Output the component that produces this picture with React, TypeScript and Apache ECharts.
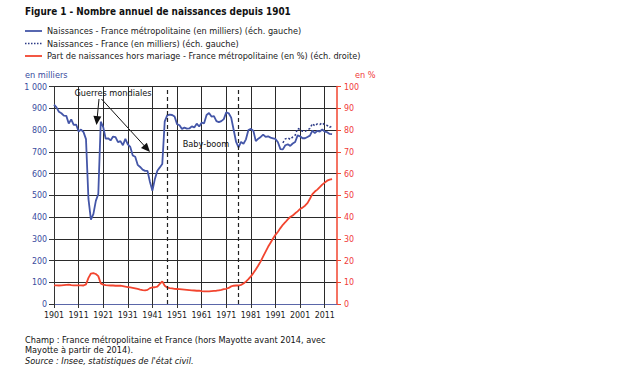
import React, { useEffect, useRef } from "react";
import * as echarts from "echarts";

const startYear = 1901;
const endYear = 2016;
const years: string[] = [];
for (let y = startYear; y <= endYear; y++) years.push(String(y));

// Naissances - France métropolitaine (milliers), 1901-2014
const birthsMetro: number[] = [
  917, 904, 884, 877, 866, 865, 830, 849, 824, 825,
  793, 802, 790, 758, 483, 388, 413, 474, 506, 838,
  813, 760, 762, 752, 770, 767, 744, 749, 730, 759,
  734, 722, 683, 677, 640, 630, 618, 612, 612, 561,
  521, 575, 613, 628, 644, 840, 867, 871, 869, 862,
  827, 822, 805, 811, 806, 807, 817, 812, 829, 816,
  834, 831, 869, 878, 862, 864, 841, 836, 841, 850,
  881, 877, 857, 801, 745, 720, 745, 737, 757, 800,
  805, 797, 749, 760, 768, 779, 768, 771, 765, 762,
  759, 744, 712, 711, 730, 734, 727, 738, 745, 775,
  771, 762, 762, 768, 774, 797, 786, 796, 793, 802,
  793, 790, 782, 781,
];

// Naissances - France (milliers), from 1994 to 2014
const franceStart = 1994;
const birthsFrance: number[] = [
  741, 759, 764, 757, 768, 776, 807, 803, 794, 794,
  800, 807, 829, 819, 828, 825, 833, 823, 821, 812, 819,
];

// Part de naissances hors mariage (%), 1901-2014
const outOfWedlock: number[] = [
  8.6, 8.6, 8.5, 8.6, 8.7, 8.8, 8.9, 8.7, 8.6, 8.6,
  8.6, 8.6, 8.5, 9.0, 12.0, 14.0, 14.2, 13.8, 12.8, 9.5,
  8.9, 8.7, 8.6, 8.5, 8.5, 8.4, 8.4, 8.4, 8.2, 8.0,
  7.8, 7.6, 7.4, 7.2, 6.9, 6.6, 6.4, 6.3, 6.5, 7.3,
  7.6, 7.7, 8.0, 9.2, 10.4, 8.4, 7.6, 7.3, 7.2, 7.0,
  6.9, 6.8, 6.7, 6.6, 6.5, 6.4, 6.3, 6.2, 6.1, 6.1,
  5.9, 5.8, 5.8, 5.8, 5.9, 6.0, 6.1, 6.3, 6.5, 6.8,
  7.0, 7.4, 8.1, 8.4, 8.5, 8.5, 8.8, 9.4, 10.3, 11.4,
  12.7, 14.2, 15.9, 17.7, 19.6, 21.9, 24.1, 26.3, 28.2, 30.1,
  31.8, 33.2, 34.9, 36.4, 37.6, 38.9, 40.0, 40.7, 41.7, 42.6,
  43.7, 44.3, 45.2, 46.4, 48.4, 50.5, 51.7, 52.6, 53.7, 54.9,
  55.8, 56.7, 57.2, 57.4,
];

const babyBoomBounds = ["1947", "1976"];

const seriesNames = [
  "Naissances - France métropolitaine (en milliers) (éch. gauche)",
  "Naissances - France (en milliers) (éch. gauche)",
  "Part de naissances hors mariage - France métropolitaine (en %) (éch. droite)",
];

const FONT = "'DejaVu Sans Condensed', 'DejaVu Sans', sans-serif";
const BLUE = "#4456a8";
const DOT_BLUE = "#2c3a86";
const BLUE_TXT = "#3a4c9e";
const RED = "#f2452f";
const RED_TXT = "#f03a3a";

function arrowHead(x1: number, y1: number, x2: number, y2: number, len: number, half: number) {
  const dx = x2 - x1;
  const dy = y2 - y1;
  const d = Math.sqrt(dx * dx + dy * dy);
  const ux = dx / d;
  const uy = dy / d;
  const bx = x2 - ux * len;
  const by = y2 - uy * len;
  return [
    [x2, y2],
    [bx - uy * half, by + ux * half],
    [bx + uy * half, by - ux * half],
  ];
}

function arrow(x1: number, y1: number, x2: number, y2: number) {
  const len = 9;
  const dx = x2 - x1;
  const dy = y2 - y1;
  const d = Math.sqrt(dx * dx + dy * dy);
  const ex = x2 - (dx / d) * (len - 1);
  const ey = y2 - (dy / d) * (len - 1);
  return [
    {
      type: "line",
      shape: { x1, y1, x2: ex, y2: ey },
      style: { stroke: "#111", lineWidth: 1 },
      silent: true,
    },
    {
      type: "polygon",
      shape: { points: arrowHead(x1, y1, x2, y2, len, 4) },
      style: { fill: "#111" },
      silent: true,
    },
  ];
}

export default function App() {
  const ref = useRef<HTMLDivElement>(null);
  useEffect(() => {
    if (!ref.current) return;
    const chart = echarts.init(ref.current, undefined, { renderer: "svg" });

    const metroData = years.map((_, i) => (i < birthsMetro.length ? birthsMetro[i] : null));
    const franceData = years.map((y) => {
      const k = Number(y) - franceStart;
      return k >= 0 && k < birthsFrance.length ? birthsFrance[k] : null;
    });
    const redData = years.map((_, i) => (i < outOfWedlock.length ? outOfWedlock[i] : null));

    const FS = 9.1;
    const textBase = { fontFamily: FONT, fontSize: FS, fill: "#1a1a1a" };

    const legendStyles = [
      { stroke: BLUE, lineWidth: 1.8 },
      { stroke: DOT_BLUE, lineWidth: 1.5, lineDash: [1.5, 1.5] },
      { stroke: RED, lineWidth: 1.8 },
    ];
    const legendGraphics: any[] = [];
    seriesNames.forEach((name, i) => {
      const y = 31 + i * 12.5;
      legendGraphics.push({
        type: "line",
        shape: { x1: 25, y1: y, x2: 42, y2: y },
        style: legendStyles[i],
        silent: true,
      });
      legendGraphics.push({
        type: "text",
        x: 47,
        y,
        style: { ...textBase, text: name, verticalAlign: "middle" },
        silent: true,
      });
    });

    chart.setOption({
      animation: false,
      backgroundColor: "#ffffff",
      textStyle: { fontFamily: FONT },
      grid: { left: 54, right: 303, top: 86.5, bottom: 71, containLabel: false },
      xAxis: {
        type: "category",
        data: years,
        boundaryGap: false,
        axisLine: { show: true, lineStyle: { color: "#5a66a8", width: 1.2 } },
        axisTick: { show: true, interval: 9, length: 4, lineStyle: { color: "#333" } },
        axisLabel: { interval: 9, color: "#1a1a1a", fontSize: 8.8, margin: 6, fontFamily: FONT },
        splitLine: { show: true, interval: 9, lineStyle: { color: "#2a2a2a", width: 1 } },
      },
      yAxis: [
        {
          type: "value",
          min: 0,
          max: 1000,
          interval: 100,
          position: "left",
          axisLine: { show: true, lineStyle: { color: "#333", width: 1 } },
          axisTick: { show: true, length: 5, lineStyle: { color: "#333" } },
          axisLabel: {
            color: BLUE_TXT,
            fontSize: 8.8,
            margin: 7,
            fontFamily: FONT,
            formatter: (v: number) => (v >= 1000 ? "1 000" : String(v)),
          },
          splitLine: { show: true, lineStyle: { color: "#2a2a2a", width: 1 } },
        },
        {
          type: "value",
          min: 0,
          max: 100,
          interval: 10,
          position: "right",
          axisLine: { show: true, lineStyle: { color: RED, width: 1.5 } },
          axisTick: { show: true, length: 4, lineStyle: { color: RED } },
          axisLabel: { color: RED_TXT, fontSize: 8.8, margin: 7, fontFamily: FONT },
          splitLine: { show: false },
        },
      ],
      series: [
        {
          name: seriesNames[0],
          type: "line",
          data: metroData,
          symbol: "none",
          lineStyle: { color: BLUE, width: 1.8 },
          itemStyle: { color: BLUE },
          z: 3,
          markLine: {
            silent: true,
            symbol: "none",
            label: { show: false },
            lineStyle: { color: "#222", type: [4, 3], width: 1.2 },
            data: babyBoomBounds.map((b) => ({ xAxis: b })),
          },
        },
        {
          name: seriesNames[1],
          type: "line",
          data: franceData,
          symbol: "none",
          lineStyle: { color: DOT_BLUE, width: 1.5, type: [2, 2] },
          itemStyle: { color: DOT_BLUE },
          z: 3,
        },
        {
          name: seriesNames[2],
          type: "line",
          yAxisIndex: 1,
          data: redData,
          symbol: "none",
          lineStyle: { color: RED, width: 1.8 },
          itemStyle: { color: RED },
          z: 3,
        },
      ],
      graphic: [
        {
          type: "text",
          left: 25,
          top: 6,
          style: { ...textBase, text: "Figure 1 - Nombre annuel de naissances depuis 1901", fontSize: 9.9, fontWeight: "bold", fill: "#111" },
        },
        ...legendGraphics,
        {
          type: "text",
          left: 25,
          top: 70,
          style: { ...textBase, text: "en milliers", fill: BLUE_TXT },
        },
        {
          type: "text",
          left: 355,
          top: 70,
          style: { ...textBase, text: "en %", fill: RED_TXT },
        },
        {
          type: "text",
          x: 113,
          y: 93,
          style: { ...textBase, text: "Guerres mondiales", align: "center", verticalAlign: "middle", fill: "#111" },
          z: 20,
        },
        ...arrow(99, 99, 96.5, 125),
        ...arrow(101.5, 99, 150, 152),
        {
          type: "text",
          x: 206,
          y: 144,
          style: { ...textBase, text: "Baby-boom", align: "center", verticalAlign: "middle", fill: "#111" },
          z: 20,
        },
        {
          type: "text",
          left: 25,
          top: 335,
          style: { ...textBase, text: "Champ : France métropolitaine et France (hors Mayotte avant 2014, avec", fill: "#111" },
        },
        {
          type: "text",
          left: 25,
          top: 345.5,
          style: { ...textBase, text: "Mayotte à partir de 2014).", fill: "#111" },
        },
        {
          type: "text",
          left: 25,
          top: 356,
          style: { ...textBase, text: "Source : Insee, statistiques de l'état civil.", fontStyle: "italic", fill: "#111" },
        },
      ],
    });

    return () => chart.dispose();
  }, []);

  return (
    <div
      ref={ref}
      style={{ position: "fixed", left: 0, top: 0, width: 640, height: 375, background: "#fff" }}
    />
  );
}
